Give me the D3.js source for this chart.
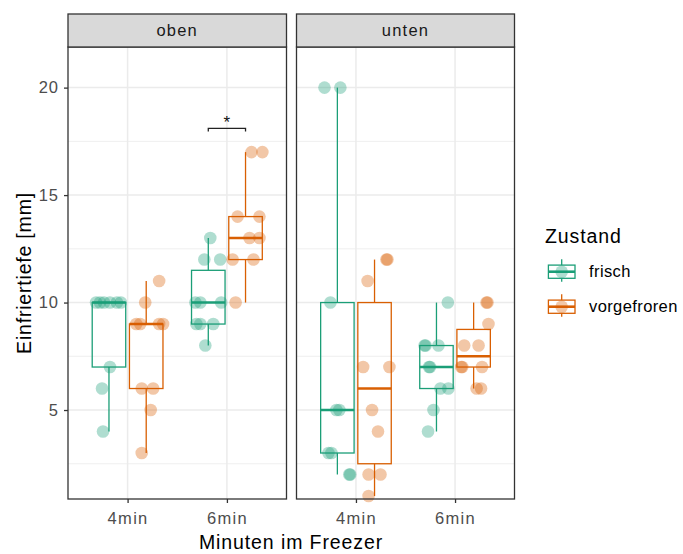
<!DOCTYPE html>
<html>
<head>
<meta charset="utf-8">
<script src="https://cdn.jsdelivr.net/npm/d3@7"></script>
<style>
  html, body { margin: 0; padding: 0; background: #fff; }
  svg { display: block; }
  text { font-family: "Liberation Sans", Arial, sans-serif; }
</style>
</head>
<body>
<svg id="chart" width="683" height="554"></svg>
<script>
// ---------- data ----------
const panels = ["oben", "unten"];
const times = ["4min", "6min"];
const zustand = ["frisch", "vorgefroren"];
const colors = ["#1B9E77", "#D95F02"];
const yTicks = [5, 10, 15, 20];

// values (mm) per panel / time / condition
const oben_4min_frisch      = [10, 10, 10, 10, 10, 10, 7, 6, 4];
const oben_4min_vorgefroren = [11, 10, 9, 9, 9, 9, 6, 6, 5, 3];
const oben_6min_frisch      = [13, 12, 12, 10, 10, 10, 9, 9, 9, 8];
const oben_6min_vorgefroren = [17, 17, 14, 14, 13, 13, 12, 12, 10];
const unten_4min_frisch      = [20, 20, 10, 5, 5, 3, 3, 2, 2];
const unten_4min_vorgefroren = [12, 12, 11, 7, 7, 5, 4, 2, 2, 1];
const unten_6min_frisch      = [10, 8, 8, 8, 7, 7, 6, 6, 5, 4];
const unten_6min_vorgefroren = [10, 10, 9, 8, 8, 7, 7, 7, 6, 6];

// horizontal jitter (category units)
const oben_4min_frisch_jit      = [-0.13, -0.09, -0.05, 0.01, 0.08, 0.12, 0.01, -0.07, -0.06];
const oben_4min_vorgefroren_jit = [0.13, -0.01, -0.10, -0.06, 0.13, 0.17, -0.045, 0.07, 0.045, -0.045];
const oben_6min_frisch_jit      = [0.02, -0.04, 0.12, -0.13, -0.08, 0.13, -0.12, -0.08, 0.05, -0.03];
const oben_6min_vorgefroren_jit = [0.06, 0.17, -0.08, 0.14, 0.04, 0.14, -0.13, 0.08, -0.10];
const unten_4min_frisch_jit      = [-0.13, 0.03, -0.07, -0.01, 0.02, -0.09, -0.06, 0.12, 0.13];
const unten_4min_vorgefroren_jit = [0.12, 0.13, -0.07, -0.115, 0.15, -0.025, 0.035, -0.06, 0.06, -0.06];
const unten_6min_frisch_jit      = [0.115, -0.12, -0.11, 0.02, -0.075, -0.065, 0.04, 0.12, -0.03, -0.085];
const unten_6min_vorgefroren_jit = [0.13, 0.14, 0.15, -0.095, 0.05, -0.125, -0.115, 0.085, 0.03, 0.075];

// significance annotation
const sigPanel = "oben";
const sigTime = "6min";
const sigY = 18.1;
const sigLabel = "*";

// ---------- build table ----------
const src = {
  oben_4min_frisch, oben_4min_vorgefroren, oben_6min_frisch, oben_6min_vorgefroren,
  unten_4min_frisch, unten_4min_vorgefroren, unten_6min_frisch, unten_6min_vorgefroren
};
const jit = {
  oben_4min_frisch: oben_4min_frisch_jit, oben_4min_vorgefroren: oben_4min_vorgefroren_jit,
  oben_6min_frisch: oben_6min_frisch_jit, oben_6min_vorgefroren: oben_6min_vorgefroren_jit,
  unten_4min_frisch: unten_4min_frisch_jit, unten_4min_vorgefroren: unten_4min_vorgefroren_jit,
  unten_6min_frisch: unten_6min_frisch_jit, unten_6min_vorgefroren: unten_6min_vorgefroren_jit
};
const groups = [];
panels.forEach(p => times.forEach((t, ti) => zustand.forEach((z, zi) => {
  const key = `${p}_${t}_${z}`;
  const vals = src[key];
  const s = vals.slice().sort(d3.ascending);
  const q1 = d3.quantile(s, 0.25), med = d3.quantile(s, 0.5), q3 = d3.quantile(s, 0.75);
  const iqr = q3 - q1;
  const lo = d3.min(s.filter(v => v >= q1 - 1.5 * iqr));
  const hi = d3.max(s.filter(v => v <= q3 + 1.5 * iqr));
  groups.push({ panel: p, time: t, ti, z, zi, vals, jit: jit[key], q1, med, q3, lo, hi });
})));

// ---------- layout ----------
const svg = d3.select("#chart");
const panelX = { oben: [68, 286.5], unten: [296.5, 514.5] };
const plotTop = 47, plotBottom = 499, stripTop = 14;
const dodge = 0.1875, boxW = 0.3375;

const y = d3.scaleLinear().domain([0.86, 21.89]).range([plotBottom, plotTop]);
const ptAlpha = 0.35;

panels.forEach(p => {
  const [x0, x1] = panelX[p];
  const x = d3.scaleLinear().domain([0.4, 2.6]).range([x0, x1]);
  const g = svg.append("g");

  // background
  g.append("rect").attr("x", x0).attr("y", plotTop).attr("width", x1 - x0).attr("height", plotBottom - plotTop).attr("fill", "#fff");

  // grid
  const minor = d3.range(2.5, 21, 5);
  g.selectAll(".gmin").data(minor).join("line")
    .attr("x1", x0).attr("x2", x1).attr("y1", d => y(d)).attr("y2", d => y(d))
    .attr("stroke", "#EBEBEB").attr("stroke-width", 0.8);
  g.selectAll(".gmaj").data(yTicks).join("line")
    .attr("x1", x0).attr("x2", x1).attr("y1", d => y(d)).attr("y2", d => y(d))
    .attr("stroke", "#EBEBEB").attr("stroke-width", 1.5);
  g.selectAll(".gx").data(times).join("line")
    .attr("x1", (d, i) => x(i + 1)).attr("x2", (d, i) => x(i + 1))
    .attr("y1", plotTop).attr("y2", plotBottom)
    .attr("stroke", "#EBEBEB").attr("stroke-width", 1.5);

  const pg = groups.filter(d => d.panel === p);
  const cx = d => x(d.ti + 1 + (d.zi === 0 ? -dodge : dodge));
  const half = x(1 + boxW / 2) - x(1);

  // whiskers
  pg.forEach(d => {
    const c = colors[d.zi];
    const X = cx(d);
    g.append("line").attr("x1", X).attr("x2", X).attr("y1", y(d.q3)).attr("y2", y(d.hi)).attr("stroke", c).attr("stroke-width", 1.3);
    g.append("line").attr("x1", X).attr("x2", X).attr("y1", y(d.q1)).attr("y2", y(d.lo)).attr("stroke", c).attr("stroke-width", 1.3);
    g.append("rect").attr("x", X - half).attr("width", 2 * half)
      .attr("y", y(d.q3)).attr("height", y(d.q1) - y(d.q3))
      .attr("fill", "none").attr("stroke", c).attr("stroke-width", 1.3);
    g.append("line").attr("x1", X - half).attr("x2", X + half).attr("y1", y(d.med)).attr("y2", y(d.med))
      .attr("stroke", c).attr("stroke-width", 2.6);
  });

  // points
  pg.forEach(d => {
    g.selectAll(null).data(d.vals.map((v, i) => ({ v, j: d.jit[i] }))).join("circle")
      .attr("cx", e => x(d.ti + 1 + (d.zi === 0 ? -dodge : dodge) + e.j))
      .attr("cy", e => y(e.v))
      .attr("r", 6.3)
      .attr("fill", colors[d.zi]).attr("fill-opacity", ptAlpha);
  });

  // significance
  if (p === sigPanel) {
    const ti = times.indexOf(sigTime);
    const xa = x(ti + 1 - dodge), xb = x(ti + 1 + dodge);
    const yb = y(sigY);
    g.append("path").attr("d", `M${xa},${yb + 3}V${yb}H${xb}V${yb + 3}`)
      .attr("fill", "none").attr("stroke", "#222").attr("stroke-width", 1.3);
    g.append("text").attr("x", (xa + xb) / 2).attr("y", yb - 0.5).attr("text-anchor", "middle")
      .attr("font-size", 17).attr("fill", "#111").text(sigLabel);
  }

  // border
  g.append("rect").attr("x", x0).attr("y", plotTop).attr("width", x1 - x0).attr("height", plotBottom - plotTop)
    .attr("fill", "none").attr("stroke", "#333").attr("stroke-width", 1.3);

  // strip
  g.append("rect").attr("x", x0).attr("y", stripTop).attr("width", x1 - x0).attr("height", plotTop - stripTop)
    .attr("fill", "#D9D9D9").attr("stroke", "#333").attr("stroke-width", 1.3);
  g.append("text").attr("x", (x0 + x1) / 2).attr("y", (stripTop + plotTop) / 2).attr("dy", "0.35em")
    .attr("text-anchor", "middle").attr("font-size", 16.5).attr("letter-spacing", 1.2).attr("fill", "#1A1A1A").text(p);

  // x axis
  const xa = d3.axisBottom(x).tickValues([1, 2]).tickFormat(d => times[d - 1]).tickSize(4).tickPadding(5);
  const ax = svg.append("g").attr("transform", `translate(0,${plotBottom})`).call(xa);
  ax.select(".domain").remove();
  ax.selectAll(".tick line").attr("stroke", "#333").attr("stroke-width", 1.3);
  ax.selectAll(".tick text").attr("font-size", 16.5).attr("letter-spacing", 1.3).attr("fill", "#4D4D4D")
    .attr("font-family", "Liberation Sans, Arial, sans-serif").attr("dy", "0.95em");

  if (p === "oben") {
    const ya = d3.axisLeft(y).tickValues(yTicks).tickSize(4).tickPadding(5);
    const ay = svg.append("g").attr("transform", `translate(${x0},0)`).call(ya);
    ay.select(".domain").remove();
    ay.selectAll(".tick line").attr("stroke", "#333").attr("stroke-width", 1.3);
    ay.selectAll(".tick text").attr("font-size", 16.5).attr("letter-spacing", 1.0).attr("fill", "#4D4D4D")
      .attr("font-family", "Liberation Sans, Arial, sans-serif");
  }
});

// axis titles
svg.append("text").attr("x", 291).attr("y", 549).attr("text-anchor", "middle")
  .attr("font-size", 19.5).attr("letter-spacing", 0.9).attr("fill", "#000").text("Minuten im Freezer");
svg.append("text").attr("transform", `translate(31,273) rotate(-90)`).attr("text-anchor", "middle")
  .attr("font-size", 19.5).attr("letter-spacing", 0.8).attr("fill", "#000").text("Einfriertiefe [mm]");

// legend
const lg = svg.append("g");
lg.append("text").attr("x", 545).attr("y", 243).attr("font-size", 19.5).attr("letter-spacing", 0.9)
  .attr("fill", "#000").text("Zustand");
zustand.forEach((z, i) => {
  const cy = 271.7 + i * 35, cxk = 561.7, c = colors[i];
  const k = lg.append("g");
  k.append("line").attr("x1", cxk).attr("x2", cxk).attr("y1", cy - 12.5).attr("y2", cy + 10).attr("stroke", c).attr("stroke-width", 1.3);
  k.append("rect").attr("x", cxk - 13.3).attr("y", cy - 6.6).attr("width", 26.6).attr("height", 13.2)
    .attr("fill", "#fff").attr("stroke", c).attr("stroke-width", 1.3);
  k.append("line").attr("x1", cxk - 13.3).attr("x2", cxk + 13.3).attr("y1", cy).attr("y2", cy).attr("stroke", c).attr("stroke-width", 2.6);
  k.append("circle").attr("cx", cxk).attr("cy", cy).attr("r", 6.3).attr("fill", c).attr("fill-opacity", ptAlpha);
  lg.append("text").attr("x", 589).attr("y", cy).attr("dy", "0.35em").attr("font-size", 16.5).attr("letter-spacing", 0.4)
    .attr("fill", "#000").text(z);
});
</script>
</body>
</html>
